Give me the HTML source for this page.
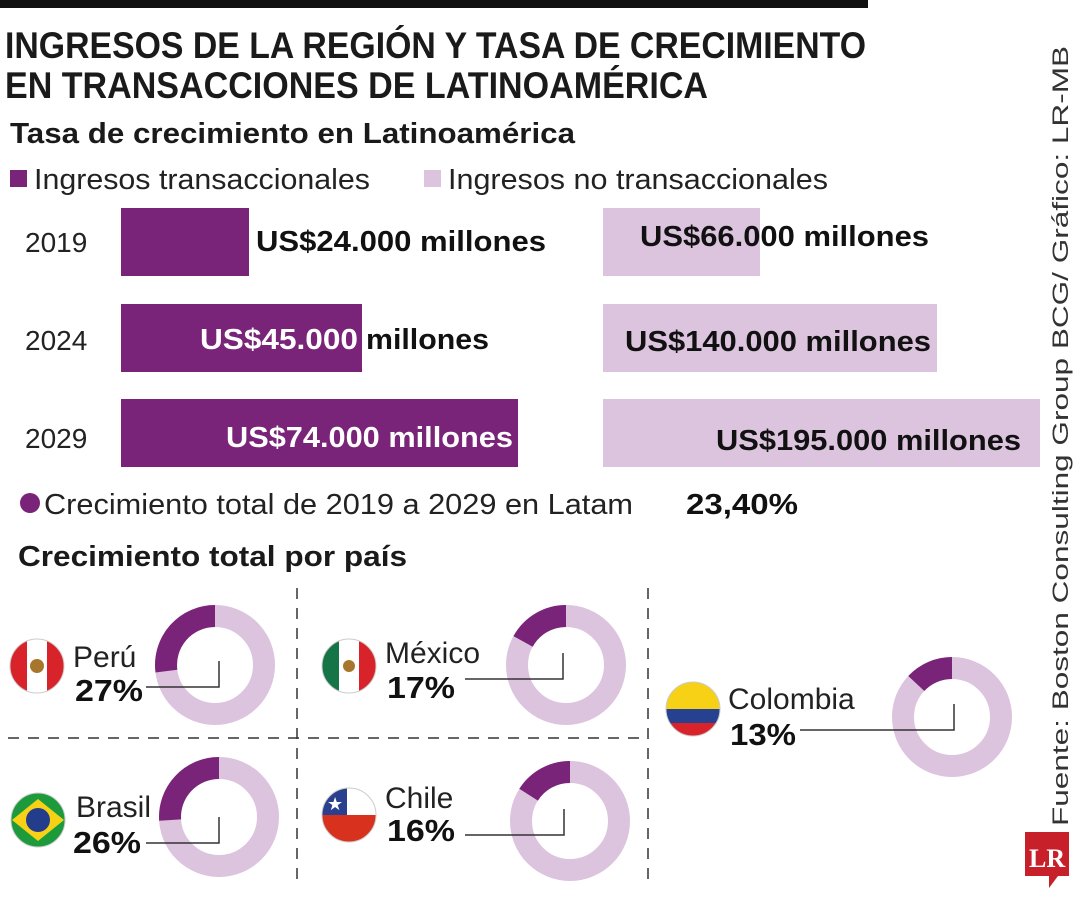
<!DOCTYPE html>
<html><head><meta charset="utf-8"><style>
html,body{margin:0;padding:0;background:#fff;}
svg{display:block;font-family:"Liberation Sans",sans-serif;}
</style></head><body>
<svg width="1080" height="900" viewBox="0 0 1080 900" xmlns="http://www.w3.org/2000/svg">
<rect x="0" y="0" width="868" height="8" fill="#111"/>
<text x="5" y="58" font-size="37" font-weight="bold" fill="#1a1a1a" textLength="861" lengthAdjust="spacingAndGlyphs">INGRESOS DE LA REGIÓN Y TASA DE CRECIMIENTO</text>
<text x="5" y="98" font-size="37" font-weight="bold" fill="#1a1a1a" textLength="703" lengthAdjust="spacingAndGlyphs">EN TRANSACCIONES DE LATINOAMÉRICA</text>
<text x="10" y="143" font-size="29" font-weight="bold" fill="#1a1a1a" textLength="565" lengthAdjust="spacingAndGlyphs">Tasa de crecimiento en Latinoamérica</text>
<rect x="10" y="170" width="17" height="17" fill="#7a2479"/>
<text x="34" y="189" font-size="29" fill="#222" textLength="336" lengthAdjust="spacingAndGlyphs">Ingresos transaccionales</text>
<rect x="424" y="170" width="17" height="17" fill="#dcc3de"/>
<text x="448" y="189" font-size="29" fill="#222" textLength="380" lengthAdjust="spacingAndGlyphs">Ingresos no transaccionales</text>
<g font-size="28" fill="#222">
<text x="25" y="252">2019</text><text x="25" y="350">2024</text><text x="25" y="448">2029</text>
</g>
<rect x="121" y="208" width="128" height="68" fill="#7a2479"/>
<rect x="603" y="208" width="157" height="68" fill="#dcc3de"/>
<rect x="121" y="304" width="241" height="68" fill="#7a2479"/>
<rect x="603" y="304" width="334" height="68" fill="#dcc3de"/>
<rect x="121" y="399" width="397" height="68" fill="#7a2479"/>
<rect x="603" y="399" width="437" height="68" fill="#dcc3de"/>
<g font-size="29" font-weight="bold">
<text x="256" y="251" fill="#111" textLength="290" lengthAdjust="spacingAndGlyphs">US$24.000 millones</text>
<text x="640" y="246" fill="#111" textLength="289" lengthAdjust="spacingAndGlyphs">US$66.000 millones</text>
<text x="200" y="349" fill="#fff" textLength="158" lengthAdjust="spacingAndGlyphs">US$45.000</text>
<text x="366" y="349" fill="#111" textLength="123" lengthAdjust="spacingAndGlyphs">millones</text>
<text x="625" y="351" fill="#111" textLength="306" lengthAdjust="spacingAndGlyphs">US$140.000 millones</text>
<text x="226" y="447" fill="#fff" textLength="287" lengthAdjust="spacingAndGlyphs">US$74.000 millones</text>
<text x="716" y="450" fill="#111" textLength="305" lengthAdjust="spacingAndGlyphs">US$195.000 millones</text>
</g>
<circle cx="30" cy="503" r="10" fill="#7a2479"/>
<text x="44" y="514" font-size="29" fill="#222" textLength="589" lengthAdjust="spacingAndGlyphs">Crecimiento total de 2019 a 2029 en Latam</text>
<text x="686" y="514" font-size="29" font-weight="bold" fill="#111" textLength="112" lengthAdjust="spacingAndGlyphs">23,40%</text>
<text x="18" y="566" font-size="29" font-weight="bold" fill="#1a1a1a" textLength="389" lengthAdjust="spacingAndGlyphs">Crecimiento total por país</text>
<g stroke="#333" stroke-width="1.5" stroke-dasharray="11,9" fill="none">
<line x1="297" y1="588" x2="297" y2="888"/>
<line x1="648" y1="588" x2="648" y2="888"/>
<line x1="8" y1="738" x2="648" y2="738"/>
</g>
<g fill="none" stroke-width="22">
<circle cx="215" cy="665" r="49" stroke="#dcc3de"/>
<path d="M215 616 A49 49 0 0 0 166.4 671.1" stroke="#7a2479"/>
<circle cx="219" cy="817" r="49" stroke="#dcc3de"/>
<path d="M219 768 A49 49 0 0 0 170.1 820.1" stroke="#7a2479"/>
<circle cx="566" cy="665" r="49" stroke="#dcc3de"/>
<path d="M566 616 A49 49 0 0 0 523.1 641.4" stroke="#7a2479"/>
<circle cx="570" cy="821" r="49" stroke="#dcc3de"/>
<path d="M570 772 A49 49 0 0 0 528.6 794.7" stroke="#7a2479"/>
<circle cx="952" cy="717" r="49" stroke="#dcc3de"/>
<path d="M952 668 A49 49 0 0 0 916.3 683.5" stroke="#7a2479"/>
</g>
<g fill="none" stroke="#333" stroke-width="1.5">
<polyline points="146,687 219,687 219,661"/>
<polyline points="146,843 219,843 219,817"/>
<polyline points="465,679 563,679 563,653"/>
<polyline points="465,835 564,835 564,809"/>
<polyline points="800,730 954,730 954,704"/>
</g>
<defs>
<clipPath id="c1"><circle cx="37" cy="666" r="27"/></clipPath>
<clipPath id="c2"><circle cx="38" cy="820" r="27"/></clipPath>
<clipPath id="c3"><circle cx="349" cy="666" r="27"/></clipPath>
<clipPath id="c4"><circle cx="349" cy="815" r="27"/></clipPath>
<clipPath id="c5"><circle cx="693" cy="709" r="27"/></clipPath>
</defs>
<g clip-path="url(#c1)"><rect x="8" y="638" width="58" height="56" fill="#fff"/><rect x="8" y="638" width="19" height="56" fill="#d8232a"/><rect x="47" y="638" width="19" height="56" fill="#d8232a"/><circle cx="37" cy="666" r="7" fill="#a7762c"/></g>
<g clip-path="url(#c2)"><rect x="9" y="792" width="58" height="56" fill="#1d9a3b"/><polygon points="38,799 64,820 38,841 12,820" fill="#f7d116"/><circle cx="38" cy="820" r="12" fill="#243c8c"/></g>
<g clip-path="url(#c3)"><rect x="320" y="638" width="58" height="56" fill="#fff"/><rect x="320" y="638" width="19" height="56" fill="#157547"/><rect x="359" y="638" width="19" height="56" fill="#d8232a"/><circle cx="349" cy="666" r="6" fill="#a7762c"/></g>
<g clip-path="url(#c4)"><rect x="320" y="787" width="58" height="28" fill="#fff"/><rect x="320" y="815" width="58" height="28" fill="#d8321f"/><rect x="320" y="787" width="27" height="28" fill="#2a3f8e"/><text x="327" y="810" font-size="18" fill="#fff">★</text></g>
<g clip-path="url(#c5)"><rect x="664" y="681" width="58" height="28" fill="#f7d116"/><rect x="664" y="709" width="58" height="14" fill="#26418f"/><rect x="664" y="723" width="58" height="14" fill="#d8232a"/></g>
<g stroke="#ccc" stroke-width="1" fill="none">
<circle cx="37" cy="666" r="27"/><circle cx="38" cy="820" r="27"/><circle cx="349" cy="666" r="27"/><circle cx="349" cy="815" r="27"/><circle cx="693" cy="709" r="27"/>
</g>
<g font-size="30" fill="#222">
<text x="73" y="667">Perú</text>
<text x="76" y="817">Brasil</text>
<text x="385" y="663">México</text>
<text x="385" y="808">Chile</text>
<text x="728" y="709">Colombia</text>
</g>
<g font-size="31" font-weight="bold" fill="#111">
<text x="75" y="701" textLength="68" lengthAdjust="spacingAndGlyphs">27%</text>
<text x="73" y="853" textLength="68" lengthAdjust="spacingAndGlyphs">26%</text>
<text x="387" y="698" textLength="68" lengthAdjust="spacingAndGlyphs">17%</text>
<text x="387" y="841" textLength="68" lengthAdjust="spacingAndGlyphs">16%</text>
<text x="730" y="745" textLength="66" lengthAdjust="spacingAndGlyphs">13%</text>
</g>
<text transform="translate(1068,826) rotate(-90)" font-size="22" fill="#333" textLength="780" lengthAdjust="spacingAndGlyphs">Fuente: Boston Consulting Group BCG/ Gráfico: LR-MB</text>
<path d="M1025 832 H1069 V876 H1058 L1049 888 V876 H1025 Z" fill="#c8202a"/>
<text x="1029" y="867" font-family="Liberation Serif,serif" font-weight="bold" font-size="26" fill="#fff">LR</text>
</svg>
</body></html>
